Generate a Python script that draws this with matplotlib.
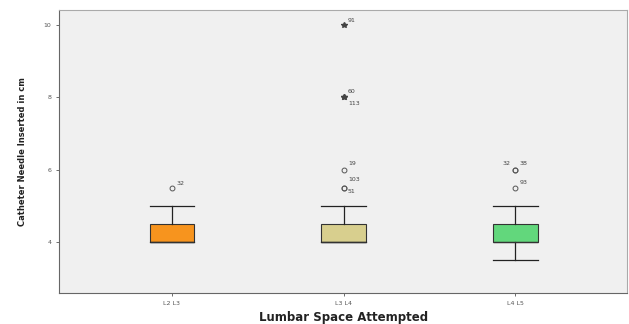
import matplotlib

matplotlib.use("Agg")
import matplotlib.pyplot as plt

# data
levels = ["L2 L3", "L3 L4", "L4 L5"]
q1 = [4.0, 4.0, 4.0]
median = [4.0, 4.0, 4.0]
q3 = [4.5, 4.5, 4.5]
whisker_low = [4.0, 4.0, 3.5]
whisker_high = [5.0, 5.0, 5.0]
box_colors = ["#f7941e", "#d8cf8e", "#62d77c"]

# outliers: (group index, value, case label)
mild_outliers = [
    (0, 5.5, "32"),
    (1, 6.0, "19"),
    (1, 5.5, "103"),
    (1, 5.5, "51"),
    (2, 6.0, "32"),
    (2, 6.0, "38"),
    (2, 5.5, "93"),
]
extreme_outliers = [
    (1, 8.0, "60"),
    (1, 8.0, "113"),
    (1, 10.0, "91"),
]
# label offsets (points) so stacked case numbers don't overlap
label_offsets = {
    (0, "32"): (3, 2),
    (1, "19"): (3, 3),
    (1, "103"): (3, 5),
    (1, "51"): (3, -4),
    (2, "32"): (-9, 3),
    (2, "38"): (3, 3),
    (2, "93"): (3, 3),
    (1, "60"): (3, 3),
    (1, "113"): (3, -6),
    (1, "91"): (3, 2),
}

stats = [
    {
        "label": levels[i],
        "q1": q1[i],
        "med": median[i],
        "q3": q3[i],
        "whislo": whisker_low[i],
        "whishi": whisker_high[i],
        "fliers": [],
    }
    for i in range(len(levels))
]

fig = plt.figure(figsize=(6.29, 3.24), dpi=100)
ax = fig.add_axes([0.094, 0.096, 0.903, 0.873])
ax.set_facecolor("#f0f0f0")

positions = [1, 2, 3]
bp = ax.bxp(
    stats,
    positions=positions,
    widths=0.26,
    patch_artist=True,
    showfliers=False,
    boxprops=dict(edgecolor="#333333", linewidth=0.8),
    medianprops=dict(color="#333333", linewidth=1.0),
    whiskerprops=dict(color="#222222", linewidth=0.9),
    capprops=dict(color="#222222", linewidth=0.9),
    capwidths=0.26,
)
for patch, color in zip(bp["boxes"], box_colors):
    patch.set_facecolor(color)

for group, value, label in mild_outliers:
    ax.plot(positions[group], value, marker="o", markersize=3.5, markerfacecolor="none",
            markeredgecolor="#555555", markeredgewidth=0.7, linestyle="none")
    ax.annotate(label, (positions[group], value), xytext=label_offsets[(group, label)],
                textcoords="offset points", fontsize=4.5, color="#444444")
for group, value, label in extreme_outliers:
    ax.plot(positions[group], value, marker="*", markersize=4, color="#444444", linestyle="none")
    ax.annotate(label, (positions[group], value), xytext=label_offsets[(group, label)],
                textcoords="offset points", fontsize=4.5, color="#444444")

ax.set_xlim(0.343, 3.65)
ax.set_ylim(2.6, 10.4)
ax.set_xticks(positions)
ax.set_xticklabels(levels, fontsize=4.5, color="#444444")
ax.set_yticks([4, 6, 8, 10])
ax.set_yticklabels(["4", "6", "8", "10"], fontsize=4.5, color="#444444")
ax.tick_params(length=2, width=0.6, colors="#555555")

for side in ["top", "right"]:
    ax.spines[side].set_color("#aaaaaa")
for side in ["left", "bottom"]:
    ax.spines[side].set_color("#666666")

ax.set_xlabel("Lumbar Space Attempted", fontsize=8.5, fontweight="bold", color="#222222", labelpad=4)
ax.set_ylabel("Catheter Needle Inserted in cm", fontsize=6, fontweight="bold", color="#222222", labelpad=12)

fig.savefig("out.png", dpi=100, facecolor="white")
